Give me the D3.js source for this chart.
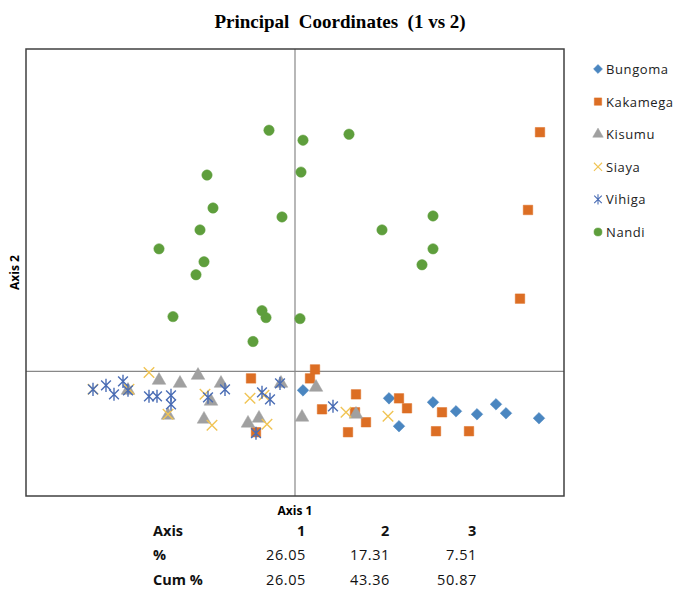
<!DOCTYPE html>
<html>
<head>
<meta charset="utf-8">
<script src="https://cdn.jsdelivr.net/npm/d3@7"></script>
<style>
  body { margin: 0; background: #fff; }
  svg { display: block; }
</style>
</head>
<body>
<svg id="chart" width="680" height="590"></svg>
<script>
// series names in legend order
const groups = ['Bungoma', 'Kakamega', 'Kisumu', 'Siaya', 'Vihiga', 'Nandi'];

// coordinates: [axis1, axis2]
const bungoma = [[0.008,-0.019],[0.094,-0.027],[0.104,-0.055],[0.138,-0.031],[0.161,-0.040],
  [0.182,-0.043],[0.201,-0.033],[0.211,-0.042],[0.244,-0.047]];
const kakamega = [[0.245,0.240],[0.233,0.162],[0.225,0.073],[-0.044,-0.007],[0.020,0.002],
  [0.015,-0.007],[0.061,-0.023],[0.027,-0.038],[0.060,-0.041],[0.071,-0.051],[0.053,-0.061],
  [0.104,-0.027],[0.112,-0.037],[0.147,-0.041],[0.141,-0.060],[0.174,-0.060],[-0.039,-0.061]];
const kisumu = [[-0.167,-0.019],[-0.136,-0.009],[-0.115,-0.012],[-0.097,-0.004],[-0.074,-0.012],
  [-0.084,-0.030],[-0.127,-0.044],[-0.091,-0.048],[-0.047,-0.052],[-0.036,-0.047],[-0.014,-0.012],
  [0.021,-0.016],[0.007,-0.046],[0.061,-0.043]];
const siaya = [[-0.202,-0.018],[-0.146,-0.001],[-0.127,-0.043],[-0.090,-0.023],[-0.083,-0.054],
  [-0.045,-0.027],[-0.031,-0.024],[-0.028,-0.053],[0.051,-0.041],[0.093,-0.045],[-0.166,-0.018]];
const vihiga = [[-0.202,-0.018],[-0.189,-0.014],[-0.181,-0.023],[-0.172,-0.010],[-0.167,-0.019],
  [-0.146,-0.025],[-0.138,-0.025],[-0.124,-0.024],[-0.124,-0.033],[-0.087,-0.026],[-0.070,-0.018],
  [-0.033,-0.021],[-0.025,-0.028],[-0.015,-0.012],[-0.039,-0.062],[0.038,-0.035]];
const nandi = [[-0.026,0.242],[0.008,0.232],[-0.088,0.197],[0.006,0.200],[-0.082,0.164],
  [-0.013,0.155],[-0.095,0.142],[-0.136,0.123],[-0.091,0.110],[-0.099,0.097],[-0.122,0.055],
  [-0.033,0.061],[-0.029,0.054],[0.005,0.053],[-0.042,0.030],[0.054,0.238],[0.138,0.156],
  [0.087,0.142],[0.138,0.123],[0.127,0.107]];

// variance table under the chart
const tableAxes = ['1', '2', '3'];
const pctValues = ['26.05', '17.31', '7.51'];
const cumValues = ['26.05', '43.36', '50.87'];

const seriesData = [bungoma, kakamega, kisumu, siaya, vihiga, nandi];
const colors = ['#4a86c0', '#dc6e24', '#a0a0a0', '#f0c454', '#4a6db5', '#5e9e3c'];

// Excel style marker shapes
const diamondSymbol = {
  draw(ctx, size) {
    const r = Math.sqrt(size) / 2 * 1.3;
    ctx.moveTo(0, -r); ctx.lineTo(r, 0); ctx.lineTo(0, r); ctx.lineTo(-r, 0); ctx.closePath();
  }
};
// vertical bar + X
const starSymbol = {
  draw(ctx, size) {
    const r = Math.sqrt(size) / 2;
    const d = r * 0.75;
    ctx.moveTo(0, -r); ctx.lineTo(0, r);
    ctx.moveTo(-d, -d); ctx.lineTo(d, d);
    ctx.moveTo(-d, d); ctx.lineTo(d, -d);
  }
};
const crossSymbol = {
  draw(ctx, size) {
    const r = Math.sqrt(size) / 2;
    ctx.moveTo(-r, -r); ctx.lineTo(r, r);
    ctx.moveTo(-r, r); ctx.lineTo(r, -r);
  }
};
const shapes = [diamondSymbol, d3.symbolSquare, d3.symbolTriangle, crossSymbol, starSymbol, d3.symbolCircle];
const sizes = [80, 90, 80, 110, 170, 85];
const filled = [true, true, true, false, false, true];

const svg = d3.select('#chart');
const L = 26, R = 564, T = 49, B = 496;

const x = d3.scaleLinear().domain([-0.269, 0.269]).range([L, R]);
const y = d3.scaleLinear().domain([-0.125, 0.3235]).range([B, T]);

// title
svg.append('text')
  .attr('x', 340).attr('y', 28)
  .attr('text-anchor', 'middle')
  .style('font-family', '"Liberation Serif", "Times New Roman", serif')
  .style('font-weight', 'bold')
  .style('font-size', '19px')
  .text('Principal\u00a0\u00a0Coordinates\u00a0\u00a0(1 vs 2)');

// zero lines
svg.append('line')
  .attr('x1', x(0)).attr('x2', x(0)).attr('y1', T).attr('y2', B)
  .attr('stroke', '#888').attr('stroke-width', 1.2);
svg.append('line')
  .attr('x1', L).attr('x2', R).attr('y1', y(0)).attr('y2', y(0))
  .attr('stroke', '#888').attr('stroke-width', 1.2);

// plot frame
svg.append('rect')
  .attr('x', L).attr('y', T).attr('width', R - L).attr('height', B - T)
  .attr('fill', 'none').attr('stroke', '#404040').attr('stroke-width', 1.5);

// points
seriesData.forEach(function (pts, i) {
  const sym = d3.symbol().type(shapes[i]).size(sizes[i]);
  svg.append('g')
    .selectAll('path')
    .data(pts)
    .enter()
    .append('path')
    .attr('transform', d => 'translate(' + x(d[0]) + ',' + y(d[1]) + ')')
    .attr('d', sym)
    .attr('fill', filled[i] ? colors[i] : 'none')
    .attr('stroke', colors[i])
    .attr('stroke-width', filled[i] ? 0.5 : 1.4);
});

// legend
const legend = svg.append('g').attr('transform', 'translate(598,69)');
groups.forEach(function (name, i) {
  const row = legend.append('g').attr('transform', 'translate(0,' + (i * 32.6) + ')');
  row.append('path')
    .attr('d', d3.symbol().type(shapes[i]).size(sizes[i] * 0.6))
    .attr('fill', filled[i] ? colors[i] : 'none')
    .attr('stroke', colors[i])
    .attr('stroke-width', filled[i] ? 0.5 : 1.1);
  row.append('text')
    .attr('x', 8).attr('y', 5)
    .style('font-family', '"Open Sans", sans-serif')
    .style('font-size', '13px')
    .style('letter-spacing', '0.6px')
    .attr('fill', '#222')
    .text(name);
});

// axis titles
svg.append('text')
  .attr('x', x(0)).attr('y', 515)
  .attr('text-anchor', 'middle')
  .style('font-family', '"Open Sans", sans-serif')
  .style('font-weight', 'bold')
  .style('font-size', '12px')
  .text('Axis 1');
svg.append('text')
  .attr('transform', 'translate(19,' + ((T + B) / 2) + ') rotate(-90)')
  .attr('text-anchor', 'middle')
  .style('font-family', '"Open Sans", sans-serif')
  .style('font-weight', 'bold')
  .style('font-size', '12px')
  .text('Axis 2');

// table
const colX = [306, 390, 477];
const rows = [
  { label: 'Axis', vals: tableAxes, bold: true, yy: 536 },
  { label: '%', vals: pctValues, bold: false, yy: 560 },
  { label: 'Cum %', vals: cumValues, bold: false, yy: 585 }
];
const tbl = svg.append('g')
  .style('font-family', '"Open Sans", sans-serif')
  .style('font-size', '14.5px')
  .attr('fill', '#111');
rows.forEach(function (r) {
  tbl.append('text')
    .attr('x', 153).attr('y', r.yy)
    .style('font-weight', 'bold')
    .text(r.label);
  r.vals.forEach(function (v, j) {
    tbl.append('text')
      .attr('x', colX[j]).attr('y', r.yy)
      .attr('text-anchor', 'end')
      .style('font-weight', r.bold ? 'bold' : 'normal')
      .style('letter-spacing', '0.6px')
      .text(v);
  });
});
</script>
</body>
</html>
